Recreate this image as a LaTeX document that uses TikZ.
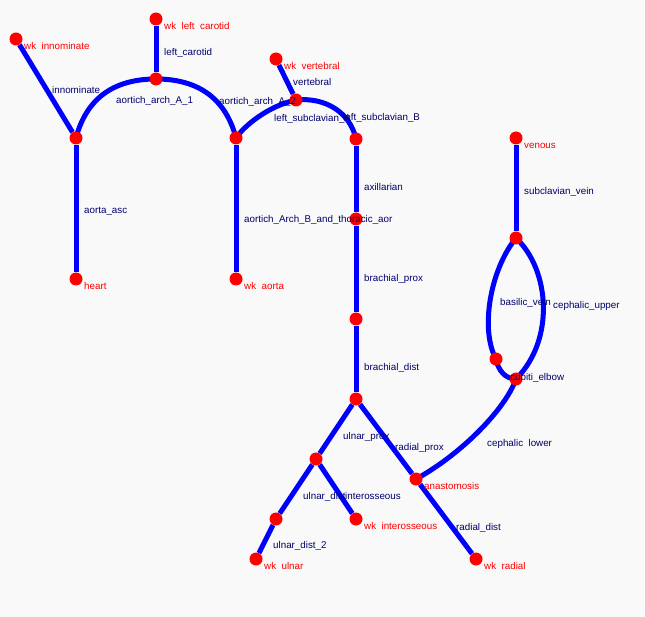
\documentclass[tikz,border=0pt]{standalone}
\usepackage{fontspec}
\setmainfont{Liberation Sans}
\usepackage{xcolor}
\usepackage{tikz}
\usetikzlibrary{calc,backgrounds}

\definecolor{bgcol}{RGB}{249,249,249}
\definecolor{labnavy}{RGB}{0,0,110}

\begin{document}
\begin{tikzpicture}[x=1pt,y=-1pt,
    dot/.style={circle,fill=red,inner sep=0pt,minimum size=13pt},
    vessel/.style={draw=blue,line width=5pt},
    elab/.style={anchor=base west,inner sep=0pt,text=labnavy,font=\fontsize{9.8}{12}\selectfont,yshift=-3.6pt},
    wklab/.style={elab,text=red}]
    \useasboundingbox (0,0) rectangle (645,617);

    % Junctions and end points of the vessel tree
    \node[dot] (winn)   at (16,39)   {};
    \node[dot] (wcar)   at (156,19)  {};
    \node[dot] (arch)   at (156,79)  {};
    \node[dot] (innj)   at (76,138)  {};
    \node[dot] (heart)  at (76,279)  {};
    \node[dot] (aorj)   at (236,138) {};
    \node[dot] (waor)   at (236,279) {};
    \node[dot] (wver)   at (276,59)  {};
    \node[dot] (verj)   at (296,100) {};
    \node[dot] (subj)   at (356,139) {};
    \node[dot] (axil)   at (356,219) {};
    \node[dot] (brach)  at (356,319) {};
    \node[dot] (elbow)  at (356,399) {};
    \node[dot] (ulnj)   at (316,459) {};
    \node[dot] (anast)  at (416,479) {};
    \node[dot] (ulnd)   at (276,519) {};
    \node[dot] (winter) at (356,519) {};
    \node[dot] (wuln)   at (256,559) {};
    \node[dot] (wrad)   at (476,559) {};
    \node[dot] (venous) at (516,138) {};
    \node[dot] (subv)   at (516,238) {};
    \node[dot] (basil)  at (496,359) {};
    \node[dot] (cubiti) at (516,379) {};

    % Vessels (under the dots)
    \begin{scope}[on background layer]
        \fill[bgcol] (0,0) rectangle (645,617);
        \draw[vessel] (winn) -- (innj);
        \draw[vessel] (wcar) -- (arch);
        \draw[vessel] (innj) -- (heart);
        \draw[vessel] (innj.center) .. controls (86,100) and (112,79) .. (arch.center);
        \draw[vessel] (arch.center) .. controls (200,79) and (226,100) .. (aorj.center);
        \draw[vessel] (aorj) -- (waor);
        \draw[vessel] (wver) -- (verj);
        \draw[vessel] (aorj.center) .. controls (244,126) and (268,106) .. (verj.center);
        \draw[vessel] (verj.center) .. controls (325,97) and (350,112) .. (subj.center);
        \draw[vessel] (subj) -- (axil) -- (brach) -- (elbow);
        \draw[vessel] (elbow) -- (ulnj) -- (ulnd) -- (wuln);
        \draw[vessel] (ulnj) -- (winter);
        \draw[vessel] (elbow) -- (anast) -- (wrad);
        \draw[vessel] (venous) -- (subv);
        \draw[vessel] (subv.center) .. controls (490,270) and (480,330) .. (basil.center);
        \draw[vessel] (basil.center) .. controls (498,370) and (505,379) .. (cubiti.center);
        \draw[vessel] (subv.center) .. controls (550,270) and (555,340) .. (cubiti.center);
        \draw[vessel] (cubiti.center) .. controls (505,410) and (460,455) .. (anast.center);
    \end{scope}

    % Vessel labels
    \node[elab] at (52,90)   {innominate};
    \node[elab] at (164,52)  {left\_carotid};
    \node[elab] at (116,100) {aortich\_arch\_A\_1};
    \node[elab] at (219,101) {aortich\_arch\_A\_2};
    \node[elab] at (293,82)  {vertebral};
    \node[elab] at (274,118) {left\_subclavian\_A};
    \node[elab] at (343,117) {left\_subclavian\_B};
    \node[elab] at (84,210)  {aorta\_asc};
    \node[elab] at (244,219) {aortich\_Arch\_B\_and\_thoracic\_aor};
    \node[elab] at (364,187) {axillarian};
    \node[elab] at (364,278) {brachial\_prox};
    \node[elab] at (364,367) {brachial\_dist};
    \node[elab] at (524,191) {subclavian\_vein};
    \node[elab] at (500,302) {basilic\_vein};
    \node[elab] at (553,305) {cephalic\_upper};
    \node[elab] at (510,377) {cubiti\_elbow};
    \node[elab] at (487,443) {cephalic\ \ lower};
    \node[elab] at (343,436) {ulnar\_prox};
    \node[elab] at (395,447) {radial\_prox};
    \node[elab] at (303,496) {ulnar\_dist};
    \node[elab] at (345,496) {interosseous};
    \node[elab] at (273,545) {ulnar\_dist\_2};
    \node[elab] at (456,527) {radial\_dist};

    % End point labels
    \foreach \n/\t in {winn/wk\ \ innominate, wcar/wk\ \ left\ \ carotid,
        wver/wk\ \ vertebral, heart/heart, waor/wk\ \ aorta, venous/venous,
        anast/anastomosis, winter/wk\ \ interosseous, wuln/wk\ \ ulnar,
        wrad/wk\ \ radial} {
        \node[wklab] at ([shift={(8,7)}]\n.center) {\t};
    }

\end{tikzpicture}
\end{document}
